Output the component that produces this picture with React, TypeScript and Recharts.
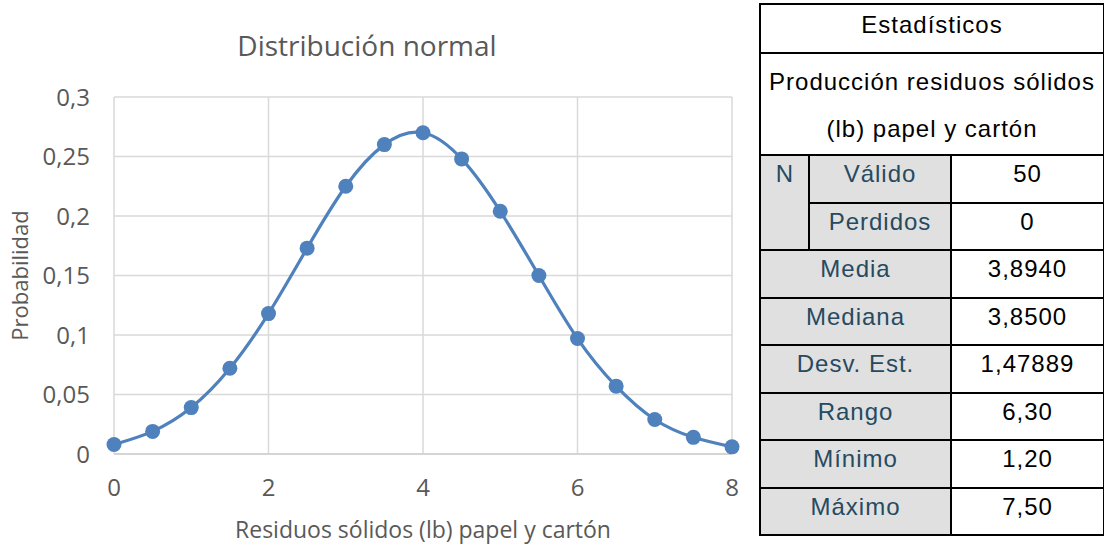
import { LineChart, Line, XAxis, YAxis, CartesianGrid } from "recharts";

const xValues = [0, 0.5, 1, 1.5, 2, 2.5, 3, 3.5, 4, 4.5, 5, 5.5, 6, 6.5, 7, 7.5, 8];
const probValues = [0.008, 0.019, 0.039, 0.072, 0.118, 0.173, 0.225, 0.260, 0.270, 0.248, 0.204, 0.150, 0.097, 0.057, 0.029, 0.014, 0.006];
const xTicks = [0, 2, 4, 6, 8];
const yTicks = [0, 0.05, 0.1, 0.15, 0.2, 0.25, 0.3];

const statLabels = ["Media", "Mediana", "Desv. Est.", "Rango", "Mínimo", "Máximo"];
const statValues = ["3,8940", "3,8500", "1,47889", "6,30", "1,20", "7,50"];
const nLabels = ["Válido", "Perdidos"];
const nValues = ["50", "0"];

const data = xValues.map((x, i) => ({ x, p: probValues[i] }));

const gray = "#595959";
const font = "Open Sans";
const fmt = (v: number) => String(v).replace(".", ",");
const tick = { fontSize: 24, fill: gray, fontFamily: font };

const cell: React.CSSProperties = {
  border: "2px solid #000",
  padding: 0,
  verticalAlign: "top",
  lineHeight: "36px",
  textAlign: "center",
};
const labelCell: React.CSSProperties = { ...cell, background: "#e0e0e0", color: "#264a60" };

export default function App() {
  return (
    <div style={{ position: "absolute", left: 0, top: 0, width: 1104, height: 546, background: "#fff", overflow: "hidden" }}>
      <div style={{ position: "absolute", left: 0, top: 26, width: 734, textAlign: "center", fontFamily: font, fontSize: 28, lineHeight: "38px", color: gray }}>
        Distribución normal
      </div>
      <div style={{ position: "absolute", left: 0, top: 0 }}>
        <LineChart width={760} height={546} data={data} margin={{ top: 97, right: 28, bottom: 0, left: 0 }}>
          <CartesianGrid stroke="#d9d9d9" strokeWidth={1.5} />
          <XAxis
            type="number" dataKey="x" domain={[0, 8]} ticks={xTicks} tickFormatter={fmt}
            height={92} tick={tick} tickSize={0} tickMargin={25}
            axisLine={{ stroke: "#d0d0d0", strokeWidth: 1.5 }}
            label={{ value: "Residuos sólidos (lb) papel y cartón", position: "insideBottom", offset: 8, fill: gray, fontSize: 23, fontFamily: font }}
          />
          <YAxis
            type="number" domain={[0, 0.3]} ticks={yTicks} tickFormatter={fmt}
            width={114} tick={tick} tickSize={0} tickMargin={24} axisLine={false}
            label={{ value: "Probabilidad", angle: -90, position: "insideLeft", offset: 20, fill: gray, fontSize: 22, fontFamily: font, style: { textAnchor: "middle" } }}
          />
          <Line
            type="natural" dataKey="p" stroke="#4f81bd" strokeWidth={3.2}
            dot={{ r: 7.5, fill: "#4f81bd", stroke: "#4f81bd", strokeWidth: 0 }}
            isAnimationActive={false}
          />
        </LineChart>
      </div>
      <table style={{ position: "absolute", left: 759, top: 3, width: 344, borderCollapse: "collapse", fontFamily: "Liberation Sans, Arial", fontSize: 24, letterSpacing: 1, color: "#000", tableLayout: "fixed" }}>
        <colgroup>
          <col style={{ width: 49 }} />
          <col style={{ width: 142 }} />
          <col style={{ width: 153 }} />
        </colgroup>
        <tbody>
          <tr style={{ height: 49 }}>
            <td colSpan={3} style={{ ...cell, paddingTop: 2 }}>Estadísticos</td>
          </tr>
          <tr style={{ height: 102 }}>
            <td colSpan={3} style={{ ...cell, lineHeight: "47px", paddingTop: 4 }}>
              Producción residuos sólidos<br />(lb) papel y cartón
            </td>
          </tr>
          {nLabels.map((l, i) => (
            <tr key={l} style={{ height: 47.5 }}>
              {i === 0 && <td rowSpan={2} style={{ ...labelCell, letterSpacing: 0 }}>N</td>}
              <td style={labelCell}>{l}</td>
              <td style={cell}>{nValues[i]}</td>
            </tr>
          ))}
          {statLabels.map((l, i) => (
            <tr key={l} style={{ height: 47.5 }}>
              <td colSpan={2} style={labelCell}>{l}</td>
              <td style={cell}>{statValues[i]}</td>
            </tr>
          ))}
        </tbody>
      </table>
    </div>
  );
}
